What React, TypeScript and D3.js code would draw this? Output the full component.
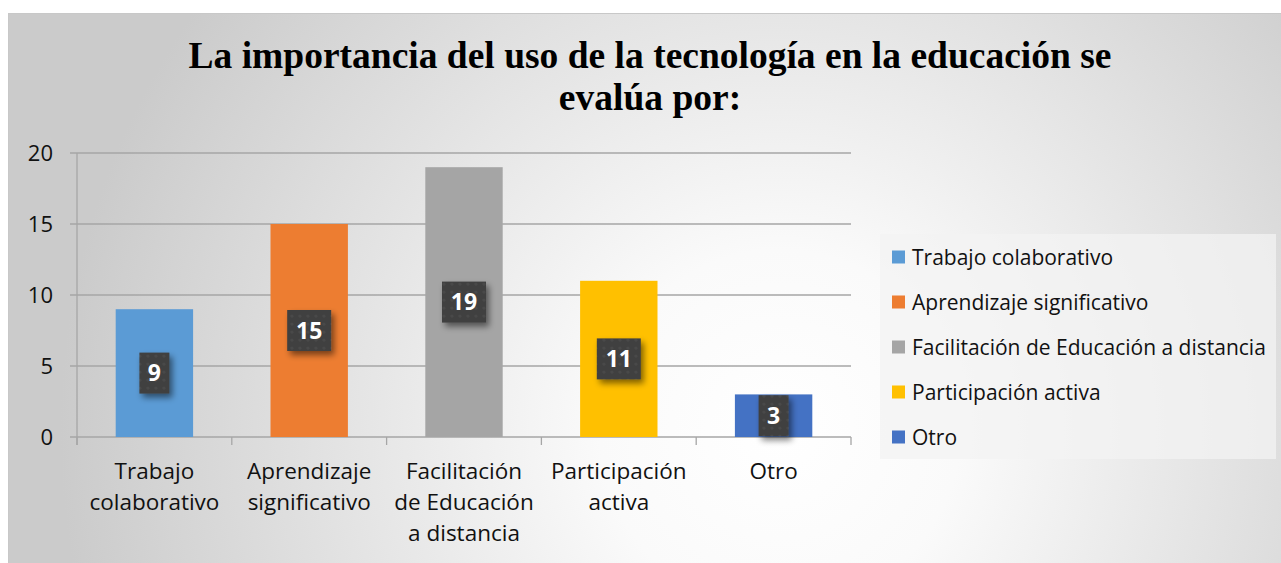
import React from "react";
import * as d3 from "d3";

const categories = [
  "Trabajo colaborativo",
  "Aprendizaje significativo",
  "Facilitación de Educación a distancia",
  "Participación activa",
  "Otro",
];
const values = [9, 15, 19, 11, 3];
const colors = ["#5b9bd5", "#ed7d31", "#a5a5a5", "#ffc000", "#4472c4"];
const axisLabelLines = [
  ["Trabajo", "colaborativo"],
  ["Aprendizaje", "significativo"],
  ["Facilitación", "de Educación", "a distancia"],
  ["Participación", "activa"],
  ["Otro"],
];
const yTicks = [0, 5, 10, 15, 20];
const titleLines = [
  "La importancia del uso de la tecnología en la educación se",
  "evalúa por:",
];

const W = 1281;
const H = 563;
const left = 77;
const right = 851;
const top = 153;
const bottom = 437;
const font = "'Open Sans', Lato, sans-serif";

export default function App() {
  const x = d3.scaleBand<string>().domain(categories).range([left, right]).paddingInner(0.5).paddingOuter(0.25);
  const y = d3.scaleLinear().domain([0, 20]).range([bottom, top]);
  const band = (right - left) / categories.length;

  return (
    <svg width={W} height={H} style={{ position: "absolute", left: 0, top: 0, display: "block" }}>
      <defs>
        <radialGradient id="bg" cx="780" cy="430" r="720" gradientUnits="userSpaceOnUse">
          <stop offset="0" stopColor="#ffffff" />
          <stop offset="0.25" stopColor="#fafafa" />
          <stop offset="1" stopColor="#cbcbcb" />
        </radialGradient>
        <pattern id="dots" width="8" height="8" patternUnits="userSpaceOnUse">
          <rect width="8" height="8" fill="#3f3f3f" />
          <circle cx="4" cy="4" r="1.6" fill="#4a4a4a" />
        </pattern>
        <filter id="shadow" x="-50%" y="-50%" width="200%" height="200%">
          <feGaussianBlur in="SourceAlpha" stdDeviation="3" />
          <feOffset dx="3" dy="4" result="b" />
          <feComponentTransfer><feFuncA type="linear" slope="0.5" /></feComponentTransfer>
          <feMerge>
            <feMergeNode />
            <feMergeNode in="SourceGraphic" />
          </feMerge>
        </filter>
      </defs>
      <rect x={0} y={0} width={W} height={H} fill="#ffffff" />
      <rect x={8} y={13} width={W - 8} height={H - 13} fill="url(#bg)" />
      <line x1={8} x2={W} y1={13.5} y2={13.5} stroke="#c8c8c8" strokeWidth={1} />
      <line x1={8.5} x2={8.5} y1={13} y2={H} stroke="#c8c8c8" strokeWidth={1} />

      {titleLines.map((t, i) => (
        <text key={i} x={650} y={68 + i * 42} textAnchor="middle" fontFamily="'Liberation Serif', 'Times New Roman', serif" fontWeight="bold" fontSize={37.5} fill="#000">
          {t}
        </text>
      ))}

      {/* gridlines */}
      {yTicks.map((t) => (
        <g key={t}>
          <line x1={70} x2={right} y1={y(t)} y2={y(t)} stroke="#a6a6a6" strokeWidth={1.3} />
          <text x={53} y={y(t)} dy="0.36em" textAnchor="end" fontFamily={font} fontSize={22} fill="#111">{t}</text>
        </g>
      ))}
      <line x1={left} x2={left} y1={top} y2={bottom + 8} stroke="#a6a6a6" strokeWidth={1.3} />
      {d3.range(categories.length + 1).map((i) => (
        <line key={i} x1={left + i * band} x2={left + i * band} y1={bottom} y2={bottom + 8} stroke="#a6a6a6" strokeWidth={1.3} />
      ))}

      {/* bars */}
      {categories.map((c, i) => (
        <rect key={c} x={x(c)} y={y(values[i])} width={x.bandwidth()} height={bottom - y(values[i])} fill={colors[i]} />
      ))}

      {/* data labels */}
      {categories.map((c, i) => {
        const cx = (x(c) as number) + x.bandwidth() / 2;
        const cy = (y(values[i]) + bottom) / 2;
        const w = String(values[i]).length > 1 ? 44 : 30;
        return (
          <g key={c}>
            <rect x={cx - w / 2} y={cy - 20.5} width={w} height={41} fill="url(#dots)" filter="url(#shadow)" />
            <text x={cx} y={cy} dy="0.36em" textAnchor="middle" fontFamily={font} fontWeight="bold" fontSize={23} fill="#fff">{values[i]}</text>
          </g>
        );
      })}

      {/* category labels */}
      {categories.map((c, i) => (
        <text key={c} textAnchor="middle" fontFamily={font} fontSize={22.5} fill="#111">
          {axisLabelLines[i].map((l, j) => (
            <tspan key={j} x={(x(c) as number) + x.bandwidth() / 2} y={479 + j * 31}>{l}</tspan>
          ))}
        </text>
      ))}

      {/* legend */}
      <rect x={880} y={234} width={396} height={225} fill="#f3f3f3" fillOpacity={0.75} />
      {categories.map((c, i) => (
        <g key={c}>
          <rect x={892} y={257 + i * 45 - 6.5} width={13} height={13} fill={colors[i]} />
          <text x={912} y={257 + i * 45} dy="0.36em" fontFamily={font} fontSize={21} fill="#111">{c}</text>
        </g>
      ))}
    </svg>
  );
}
